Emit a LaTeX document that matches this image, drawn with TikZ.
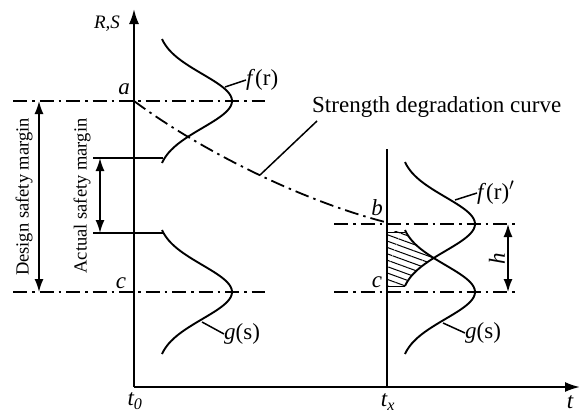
\documentclass[tikz,border=0pt]{standalone}
\usepackage{fontspec}
\setmainfont{Liberation Serif}
\usetikzlibrary{arrows.meta,patterns.meta}
\begin{document}
\begin{tikzpicture}[x=1pt,y=-1pt,
  axis/.style={line width=2pt,-{Latex[length=15pt,width=10pt]}},
  dimarrow/.style={line width=1.6pt,{Latex[length=13pt,width=9pt]}-{Latex[length=13pt,width=9pt]}},
  dashdot/.style={line width=1.8pt,dash pattern=on 14pt off 5pt on 2.5pt off 5pt},
  curve/.style={line width=1.9pt},
  thin/.style={line width=1.5pt},
  lbl/.style={font=\fontsize{18.5}{22}\selectfont,inner sep=0pt},
  blbl/.style={font=\fontsize{23}{26}\selectfont,inner sep=0pt},
  ilbl/.style={font=\fontsize{23}{26}\selectfont\itshape,inner sep=0pt}]
\useasboundingbox (0,0) rectangle (580,413);
% axes
\coordinate (O) at (134,387);
\coordinate (ytop) at (134,9);
\coordinate (xend) at (580,387);
\draw[axis] (O) -- (ytop);
\draw[axis] (O) -- (xend);
\coordinate (txb) at (387,387);
\coordinate (txt) at (387,149);
\draw[line width=2pt] (txb) -- (txt);
% dash-dot lines
\draw[dashdot] (13,101) -- (265,101);
\draw[dashdot] (13,292) -- (265,292);
\draw[dashdot] (334,224) -- (518,224);
\draw[dashdot] (334,292) -- (518,292);
% strength degradation curve
\coordinate (a) at (134,101);
\coordinate (b) at (385,222);
\draw[dashdot] (a) .. controls (200,150) and (300,200) .. (b);
% hatched area
\begin{scope}
\clip (387,163) -- plot[domain=-62:62,samples=60,variable=\d]
  ({405+70*(exp(-(\d*\d)/1458)-0.0716)/0.9284},{224+\d}) -- (387,287) -- cycle;
\fill[pattern={Lines[angle=-20,distance=6pt,line width=1pt]}] (387,232) -- plot[domain=-62:62,samples=60,variable=\d]
  ({405+70*(exp(-(\d*\d)/1458)-0.0716)/0.9284},{292+\d}) -- (387,355) -- cycle;
\end{scope}
\draw[line width=1pt] (387,232.5) -- (405,232.5);
\draw[line width=1pt] (387,286.5) -- (405,286.5);
% distributions
\draw[curve] plot[domain=-62:62,samples=60,variable=\d]
  ({162+70*(exp(-(\d*\d)/1458)-0.0716)/0.9284},{101+\d});
\draw[curve] plot[domain=-62:62,samples=60,variable=\d]
  ({162+70*(exp(-(\d*\d)/1458)-0.0716)/0.9284},{292+\d});
\draw[curve] plot[domain=-62:62,samples=60,variable=\d]
  ({405+70*(exp(-(\d*\d)/1458)-0.0716)/0.9284},{224+\d});
\draw[curve] plot[domain=-62:62,samples=60,variable=\d]
  ({405+70*(exp(-(\d*\d)/1458)-0.0716)/0.9284},{292+\d});
% actual margin lines
\coordinate (am1) at (93,158);
\coordinate (am2) at (93,233);
\draw[thin] (am1) -- (163,158);
\draw[thin] (am2) -- (163,233);
% dimension arrows
\coordinate (d1) at (39,101);
\coordinate (d2) at (39,292);
\draw[dimarrow] (d1) -- (d2);
\coordinate (e1) at (100,158);
\coordinate (e2) at (100,233);
\draw[dimarrow] (e1) -- (e2);
\coordinate (h1) at (508,224);
\coordinate (h2) at (508,292);
\draw[dimarrow] (h1) -- (h2);
% labels
\node[ilbl,font=\fontsize{19}{22}\selectfont\itshape] (RS) at (107,24) {R,S};
\node[ilbl] (la) at (124,89) {a};
\node[ilbl] (lc1) at (121,283) {c};
\node[ilbl] (lb) at (377,208) {b};
\node[ilbl] (lc2) at (377,282) {c};
\node[ilbl,rotate=90] (lh) at (497,259) {h};
\node[ilbl] (t0) at (135,401) {t\textsubscript{0}};
\node[ilbl] (tx) at (388,402) {t\textsubscript{x}};
\node[ilbl] (tt) at (570,402) {t};
\node[lbl,rotate=90] (dsm) at (24,197) {Design safety margin};
\node[lbl,rotate=90] (asm) at (82,196) {Actual safety margin};
\node[blbl,anchor=west] (sdc) at (312,107) {Strength degradation curve};
\node[blbl,anchor=west] (fr) at (246,80) {\textit{f}(r)};
\node[blbl,anchor=west] (gs1) at (224,334) {\textit{g}(s)};
\node[blbl,anchor=west] (fr2) at (477,193) {\textit{f}(r)$'$};
\node[blbl,anchor=west] (gs2) at (465,333) {\textit{g}(s)};
% leaders
\coordinate (lfr) at (225,87);
\draw[thin] (lfr) -- (fr.west);
\coordinate (lgs1) at (202,322);
\draw[thin] (lgs1) -- (gs1.west);
\coordinate (lfr2) at (455,200);
\draw[thin] (lfr2) -- (fr2.west);
\coordinate (lgs2) at (443,323);
\draw[thin] (lgs2) -- (gs2.west);
\coordinate (lsdc) at (260,175);
\draw[thin] (lsdc) -- (317,121);
\end{tikzpicture}
\end{document}
